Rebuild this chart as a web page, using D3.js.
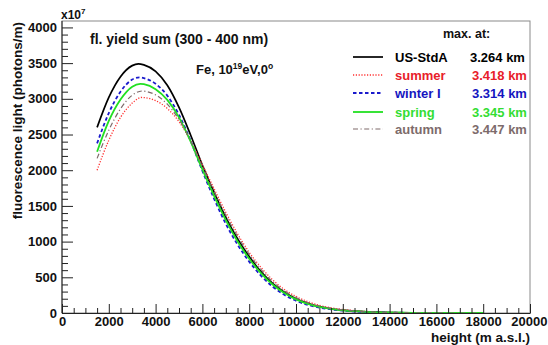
<!DOCTYPE html>
<html>
<head>
<meta charset="utf-8">
<script src="https://cdn.jsdelivr.net/npm/d3@7"></script>
<style>
  html, body { margin: 0; padding: 0; background: #fff; }
  svg { display: block; }
  text { font-family: "Liberation Sans", Arial, Helvetica, sans-serif; font-weight: bold; }
</style>
</head>
<body>
<svg id="chart" width="548" height="345"></svg>
<script>
// Fluorescence light yield profile vs. height for five atmosphere models
const heights = [1500, 2000, 2500, 3000, 3500, 4000, 4500, 5000, 5500, 6000, 6500, 7000, 7500,
  8000, 8500, 9000, 9500, 10000, 10500, 11000, 11500, 12000, 12500, 13000, 13500, 14000,
  15000, 16000, 17000, 18000];

// values in units of 1e7 photons/m
const usStdA = [2600, 3020, 3310, 3465, 3475, 3385, 3190, 2880, 2490, 2070, 1690, 1340, 1040,
  790, 580, 415, 290, 200, 135, 90, 60, 40, 26, 17, 11, 7, 3, 1, 0, 0];
const summer = [2000, 2420, 2740, 2940, 3018, 2975, 2865, 2680, 2410, 2080, 1740, 1410, 1110,
  850, 640, 465, 330, 232, 160, 108, 73, 49, 33, 22, 14, 9, 4, 1, 0, 0];
const winterI = [2376, 2800, 3100, 3270, 3290, 3210, 3045, 2775, 2410, 1990, 1600, 1250, 960,
  720, 525, 370, 255, 172, 115, 76, 50, 33, 21, 14, 9, 6, 2, 1, 0, 0];
const spring = [2259, 2690, 2990, 3170, 3205, 3135, 2985, 2740, 2400, 2010, 1640, 1300, 1005,
  760, 560, 400, 280, 190, 128, 86, 57, 38, 25, 16, 10, 7, 3, 1, 0, 0];
const autumn = [2166, 2560, 2860, 3050, 3108, 3055, 2925, 2710, 2410, 2050, 1700, 1370, 1075,
  820, 610, 440, 310, 215, 146, 98, 66, 44, 29, 19, 12, 8, 3, 1, 0, 0];

// height and value of each profile maximum
const seriesNames = ["US-StdA", "summer", "winter I", "spring", "autumn"];
const peakHeights = [3264, 3418, 3314, 3345, 3447];
const peakValues = [3490, 3020, 3300, 3210, 3110];
const maxLabels = ["3.264 km", "3.418 km", "3.314 km", "3.345 km", "3.447 km"];

const xTickValues = [0, 2000, 4000, 6000, 8000, 10000, 12000, 14000, 16000, 18000, 20000];
const yTickValues = [0, 500, 1000, 1500, 2000, 2500, 3000, 3500, 4000];

const seriesValues = [usStdA, summer, winterI, spring, autumn];
const styles = [
  { color: "#000000", text: "#000000", width: 1.7, dash: null },
  { color: "#ff3030", text: "#e8202a", width: 1.3, dash: "1.2,1.6" },
  { color: "#1a1acc", text: "#1515c0", width: 1.8, dash: "3.5,2.5" },
  { color: "#22e022", text: "#33dd33", width: 1.8, dash: null },
  { color: "#7e6a6a", text: "#7d6b6b", width: 1.2, dash: "5,2.5,1.2,2.5" }
];

const svg = d3.select("#chart");
const plotL = 62, plotR = 530, plotT = 21, plotB = 313;

const x = d3.scaleLinear().domain([0, 20000]).range([plotL, plotR]);
const y = d3.scaleLinear().domain([0, 4090]).range([plotB, plotT]);

// frame
svg.append("rect")
  .attr("x", plotL).attr("y", plotT)
  .attr("width", plotR - plotL).attr("height", plotB - plotT)
  .attr("fill", "#fff").attr("stroke", "#8a8a8a").attr("stroke-width", 1);

const defs = svg.append("defs");
defs.append("clipPath").attr("id", "plotclip")
  .append("rect").attr("x", plotL).attr("y", plotT)
  .attr("width", plotR - plotL).attr("height", plotB - plotT);
defs.append("clipPath").attr("id", "legclip")
  .append("rect").attr("x", 0).attr("y", 0).attr("width", plotR).attr("height", 345);

// curves
const line = d3.line()
  .x(d => x(d[0])).y(d => y(d[1]))
  .curve(d3.curveMonotoneX);

[0, 1, 2, 3, 4].forEach(i => {
  const pts = heights.map((h, j) => [h, seriesValues[i][j]]);
  pts.push([peakHeights[i], peakValues[i]]);
  pts.sort((a, b) => a[0] - b[0]);
  const s = styles[i];
  svg.append("path")
    .datum(pts)
    .attr("clip-path", "url(#plotclip)")
    .attr("fill", "none")
    .attr("stroke", s.color)
    .attr("stroke-width", s.width)
    .attr("stroke-dasharray", s.dash)
    .attr("d", line);
});

const fmt = d3.format("d");

// y axis
const yMinor = d3.range(0, 4001, 100).filter(v => v % 500 !== 0);
svg.append("g").attr("transform", `translate(${plotL},0)`)
  .call(d3.axisLeft(y).tickValues(yMinor).tickSize(-6).tickFormat(""))
  .call(g => g.select(".domain").remove());
const yAxis = svg.append("g").attr("transform", `translate(${plotL},0)`)
  .call(d3.axisLeft(y).tickValues(yTickValues).tickFormat(fmt)
    .tickSize(-11).tickPadding(5).tickSizeOuter(0));
yAxis.select(".domain").attr("d", `M0,${plotB}V${plotT}`).attr("stroke", "#222");
yAxis.selectAll("text").attr("font-size", 13).attr("font-weight", "bold")
  .attr("font-family", "Liberation Sans, Arial, sans-serif").attr("fill", "#111");

// x axis
const xMinor = d3.range(0, 20001, 500).filter(v => v % 2000 !== 0);
svg.append("g").attr("transform", `translate(0,${plotB})`)
  .call(d3.axisBottom(x).tickValues(xMinor).tickSize(-5).tickFormat(""))
  .call(g => g.select(".domain").remove());
const xAxis = svg.append("g").attr("transform", `translate(0,${plotB})`)
  .call(d3.axisBottom(x).tickValues(xTickValues).tickFormat(fmt)
    .tickSize(-9).tickPadding(4).tickSizeOuter(0));
xAxis.select(".domain").attr("stroke", "#222");
xAxis.selectAll("text").attr("font-size", 13).attr("font-weight", "bold")
  .attr("font-family", "Liberation Sans, Arial, sans-serif").attr("fill", "#111");
// keep the last label inside the page
xAxis.selectAll("text").filter(d => d === 20000)
  .attr("text-anchor", "end").attr("dx", 17);
svg.selectAll(".tick line").attr("stroke", "#222");

// axis titles
svg.append("text")
  .attr("transform", "translate(22,22) rotate(-90)")
  .attr("text-anchor", "end")
  .attr("font-size", 13.5)
  .attr("fill", "#111")
  .text("fluorescence light (photons/m)");

svg.append("text")
  .attr("x", 530).attr("y", 342)
  .attr("text-anchor", "end")
  .attr("font-size", 13.5)
  .attr("fill", "#111")
  .text("height (m a.s.l.)");

// exponent marker
const expo = svg.append("text").attr("x", 61).attr("y", 19).attr("font-size", 12).attr("fill", "#111");
expo.append("tspan").text("x10");
expo.append("tspan").attr("font-size", 8).attr("dy", -5).text("7");

// annotations
svg.append("text")
  .attr("x", 90).attr("y", 44)
  .attr("font-size", 14).attr("fill", "#111")
  .text("fl. yield sum (300 - 400 nm)");

const fe = svg.append("text").attr("x", 196).attr("y", 74).attr("font-size", 13).attr("fill", "#111");
fe.append("tspan").text("Fe, 10");
fe.append("tspan").attr("font-size", 8.5).attr("dy", -5).text("19");
fe.append("tspan").attr("dy", 5).text("eV,0");
fe.append("tspan").attr("font-size", 8.5).attr("dy", -5).text("o");

// legend
svg.append("text")
  .attr("x", 443).attr("y", 38)
  .attr("font-size", 12.5).attr("fill", "#111")
  .text("max. at:");

const rowY = [57, 75, 93, 112, 129];
const legend = svg.append("g");
seriesNames.forEach((name, i) => {
  const s = styles[i];
  legend.append("line")
    .attr("x1", 353).attr("x2", 383)
    .attr("y1", rowY[i]).attr("y2", rowY[i])
    .attr("stroke", s.color)
    .attr("stroke-width", s.width)
    .attr("stroke-dasharray", s.dash);
  legend.append("text")
    .attr("x", 395).attr("y", rowY[i] + 4.5)
    .attr("font-size", 13).attr("fill", s.text)
    .text(name);
  legend.append("text")
    .attr("x", i === 0 ? 470 : 472).attr("y", rowY[i] + 4.5)
    .attr("clip-path", "url(#legclip)")
    .attr("font-size", 13).attr("fill", s.text)
    .text(maxLabels[i]);
});
</script>
</body>
</html>
